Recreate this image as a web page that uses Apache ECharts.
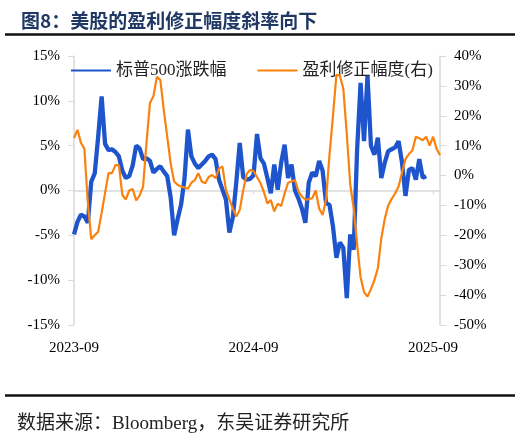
<!DOCTYPE html>
<html>
<head>
<meta charset="utf-8">
<script src="https://cdn.jsdelivr.net/npm/echarts@6/dist/echarts.min.js"></script>
<style>
  html, body { margin: 0; padding: 0; background: #fff; }
  #main { width: 520px; height: 444px; }
</style>
</head>
<body>
<div id="main"></div>
<script>
// 标普500涨跌幅（左轴，%）
const spxChange = [
  -4.9, -3.5, -2.7, -2.9, -3.6, 1.0, 1.9, 6.0, 10.5, 5.2,
  4.5, 4.6, 4.3, 3.8, 2.2, 1.4, 1.6, 2.8, 5.0, 4.7,
  3.5, 3.6, 3.3, 2.0, 2.4, 2.7, 2.1, 1.6, -0.8, -5.0,
  -3.2, -1.6, 1.3, 6.8, 3.8, 3.0, 2.5, 2.9, 3.3, 3.8,
  4.0, 3.5, 1.2, 0.1, -1.0, -4.7, -3.0, 0.9, 5.3, 1.5,
  1.2, 1.3, 1.7, 6.3, 3.6, 3.0, 1.4, -0.3, 2.9, 0.1,
  3.1, 5.1, 1.4, 2.9, 0.0, -0.9, -2.0, -3.6, 0.9, 2.0,
  1.6, 3.3, 2.2, -1.4, -1.6, -4.0, -7.5, -5.8, -6.4, -12.0,
  -4.9, -6.6, 4.6, 12.0, 5.5, 12.8, 5.0, 4.0, 5.9, 1.4,
  3.1, 4.4, 4.6, 4.8, 5.5, 3.1, -0.6, 2.3, 2.5, 1.2,
  3.5, 1.4, 1.6
];

// 盈利修正幅度（右轴，%）
const epsRevision = [
  12.5, 15.3, 11.0, 9.0, -9.0, -21.3, -20.0, -18.8, -12.5, -5.8,
  0.8, 0.8, 3.5, 3.5, -6.5, -8.0, -5.0, -4.5, -8.3, -6.7,
  -3.7, 11.0, 24.3, 26.5, 33.0, 32.0, 22.0, 13.0, 4.0, -2.0,
  -3.1, -3.7, -4.0, -4.4, -2.4, -1.5, 0.8, -2.0, -2.6, -0.5,
  0.2, -0.9, 2.4, 3.0, -4.8, -8.0, -11.0, -13.7, -11.5, -5.0,
  0.5, 1.9, 1.5, -0.5, -2.5, -5.5, -9.3, -8.2, -12.0, -9.4,
  -10.2, -6.0, -2.4, -2.0, -1.5, -5.3, -7.0, -8.1, -7.9, -7.6,
  -5.0, -11.0, -13.2, -8.0, 7.0, 20.0, 33.7, 33.5, 29.0, 14.0,
  -3.0, -11.0, -23.0, -34.0, -39.0, -40.5, -38.0, -35.0, -31.0, -21.0,
  -14.5, -10.0, -7.8, -6.0, -3.7, 1.0, 5.5, 7.2, 8.4, 13.0,
  12.5, 11.8, 13.0, 10.0, 13.0, 9.0, 6.8
];

// 周度日期（每周五），从 2023-09-08 起
const startDate = new Date(Date.UTC(2023, 8, 8));
const weeks = [];
for (let i = 0; i < epsRevision.length; i++) {
  const d = new Date(startDate.getTime() + i * 7 * 86400000);
  weeks.push(d.toISOString().slice(0, 10));
}

const serif = '"Liberation Serif", "Noto Sans CJK SC", serif';
const axisGray = '#d9d9d9';

const chart = echarts.init(document.getElementById('main'));

const option = {
  animation: false,
  backgroundColor: '#fff',
  title: {
    text: '图8：美股的盈利修正幅度斜率向下',
    left: 16,
    top: 6,
    textStyle: {
      fontFamily: '"Noto Sans CJK SC", sans-serif',
      fontSize: 19,
      fontWeight: 'bold',
      color: '#1f3864'
    }
  },
  graphic: [
    { type: 'line', shape: { x1: 5, y1: 34.5, x2: 515, y2: 34.5 }, style: { stroke: '#111', lineWidth: 2.5 } },
    { type: 'line', shape: { x1: 5, y1: 395.5, x2: 515, y2: 395.5 }, style: { stroke: '#111', lineWidth: 2.5 } },
    {
      type: 'text', left: 17, top: 415,
      style: { text: '数据来源：Bloomberg，东吴证券研究所', font: '19px "Liberation Serif", "Noto Sans CJK SC"', fill: '#222' }
    }
  ],
  legend: {
    left: 65,
    top: 57,
    itemWidth: 40,
    itemHeight: 6,
    itemGap: 30,
    itemStyle: { opacity: 0 },
    textStyle: { fontFamily: serif, fontSize: 17, color: '#222' },
    data: ['标普500涨跌幅', '盈利修正幅度(右)']
  },
  grid: { left: 74, right: 80, top: 56, bottom: 119 },
  xAxis: [
    {
      type: 'category',
      data: weeks,
      boundaryGap: false,
      axisLine: { onZero: true, onZeroAxisIndex: 0, lineStyle: { color: axisGray, width: 1.5 } },
      axisTick: { show: true, interval: 51, length: 4, lineStyle: { color: axisGray } },
      axisLabel: { show: false },
      splitLine: { show: false }
    },
    {
      type: 'category',
      data: weeks,
      position: 'bottom',
      boundaryGap: false,
      axisLine: { show: false, onZero: false },
      axisTick: { show: false },
      axisLabel: {
        interval: 51,
        margin: 16,
        fontFamily: serif,
        fontSize: 15,
        color: '#000',
        formatter: v => v.slice(0, 7)
      },
      splitLine: { show: false }
    }
  ],
  yAxis: [
    {
      type: 'value',
      min: -15, max: 15, interval: 5,
      axisLine: { show: true, lineStyle: { color: axisGray, width: 1.5 } },
      axisTick: { show: true, length: 6, lineStyle: { color: axisGray } },
      axisLabel: { margin: 14, fontFamily: serif, fontSize: 15, color: '#000', formatter: '{value}%' },
      splitLine: { show: false }
    },
    {
      type: 'value',
      min: -50, max: 40, interval: 10,
      position: 'right',
      axisLine: { show: true, lineStyle: { color: axisGray, width: 1.5 } },
      axisTick: { show: true, length: 6, lineStyle: { color: axisGray } },
      axisLabel: { margin: 14, fontFamily: serif, fontSize: 15, color: '#000', formatter: '{value}%' },
      splitLine: { show: false }
    }
  ],
  series: [
    {
      name: '标普500涨跌幅',
      type: 'line',
      xAxisIndex: 0,
      yAxisIndex: 0,
      data: spxChange,
      symbol: 'none',
      z: 3,
      lineStyle: { color: '#1f55cc', width: 4.3 },
      itemStyle: { color: '#1f55cc' }
    },
    {
      name: '盈利修正幅度(右)',
      type: 'line',
      xAxisIndex: 0,
      yAxisIndex: 1,
      data: epsRevision,
      symbol: 'none',
      z: 4,
      lineStyle: { color: '#f9820e', width: 2.2 },
      itemStyle: { color: '#f9820e' }
    }
  ]
};

chart.setOption(option);
</script>
</body>
</html>
